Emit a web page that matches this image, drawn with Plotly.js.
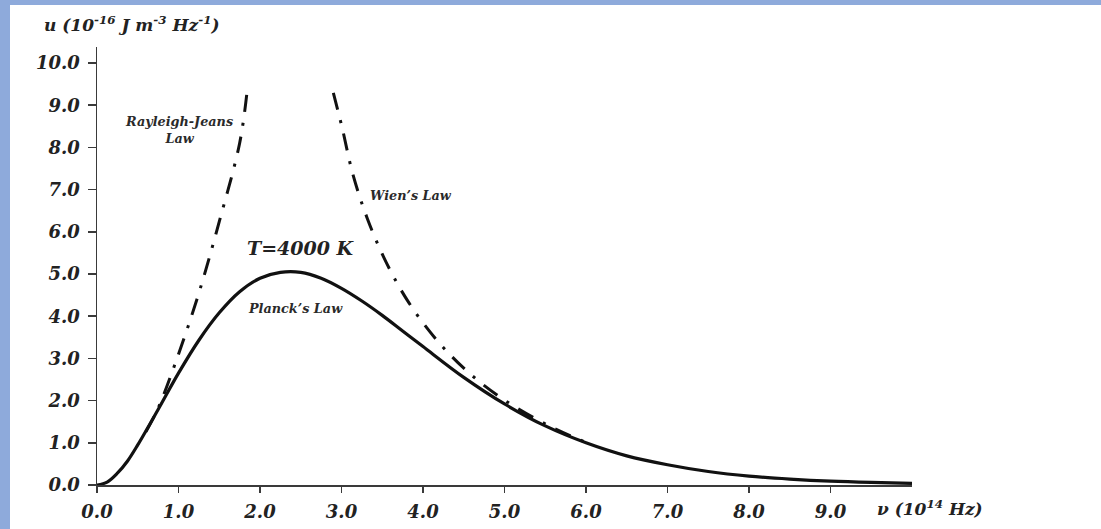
<!DOCTYPE html>
<html>
<head>
<meta charset="utf-8">
<script src="https://cdn.plot.ly/plotly-3.0.1.min.js"></script>
<style>
  html, body { margin: 0; padding: 0; background: #8eaadb; width: 1101px; height: 529px; overflow: hidden; }
  #chart { position: absolute; left: 10px; top: 5px; width: 1091px; height: 524px; background: #ffffff; }
</style>
</head>
<body>
<div id="chart"></div>
<script>
// Frequency in 10^14 Hz, energy density in 10^-16 J m^-3 Hz^-1
const nuPlanck = [0, 0.125, 0.25, 0.375, 0.5, 0.75, 1.0, 1.25, 1.5, 1.75, 2.0, 2.25, 2.5, 2.75, 3.0, 3.25, 3.5, 3.75, 4.0, 4.5, 5.0, 5.5, 6.0, 6.5, 7.0, 7.5, 8.0, 8.5, 9.0, 9.5, 10.0];
const uPlanck  = [0, 0.07, 0.28, 0.57, 0.95, 1.79, 2.65, 3.43, 4.08, 4.58, 4.90, 5.04, 5.04, 4.90, 4.66, 4.36, 4.02, 3.65, 3.28, 2.55, 1.92, 1.40, 1.00, 0.69, 0.48, 0.32, 0.21, 0.14, 0.09, 0.06, 0.04];

const nuRJ = [0.6, 0.75, 1.0, 1.25, 1.5, 1.75, 1.84];
const uRJ  = [1.26, 1.82, 3.10, 4.55, 6.24, 8.10, 9.30];

const nuWien = [2.90, 3.01, 3.14, 3.32, 3.55, 3.83, 4.18, 4.58, 5.04, 5.55, 6.0];
const uWien  = [9.29, 8.45, 7.36, 6.30, 5.27, 4.31, 3.41, 2.63, 1.96, 1.40, 1.01];

const xTickVals = [0, 1, 2, 3, 4, 5, 6, 7, 8, 9];
const xTickText = ['0.0', '1.0', '2.0', '3.0', '4.0', '5.0', '6.0', '7.0', '8.0', '9.0'];
const yTickVals = [0, 1, 2, 3, 4, 5, 6, 7, 8, 9, 10];
const yTickText = ['0.0', '1.0', '2.0', '3.0', '4.0', '5.0', '6.0', '7.0', '8.0', '9.0', '10.0'];

const serif = 'DejaVu Serif, Liberation Serif, serif';
const tickFont = {family: serif, size: 18, color: '#222', weight: 'bold', style: 'italic'};
const noteFont = {family: serif, size: 12.8, color: '#2a2a2a', weight: 'bold', style: 'italic'};
const titleFont = {family: serif, size: 17, color: '#222', weight: 'bold', style: 'italic'};
const dashDot = '17px,11px,3px,11px';

const traces = [
  {x: nuRJ, y: uRJ, mode: 'lines', line: {color: '#111', width: 3, dash: dashDot, shape: 'spline'}, hoverinfo: 'skip'},
  {x: nuWien, y: uWien, mode: 'lines', line: {color: '#111', width: 3, dash: dashDot, shape: 'spline'}, hoverinfo: 'skip'},
  {x: nuPlanck, y: uPlanck, mode: 'lines', line: {color: '#111', width: 3.2, shape: 'spline', smoothing: 1}, hoverinfo: 'skip'}
];

const layout = {
  width: 1091, height: 524,
  margin: {l: 87, r: 189, t: 42, b: 44},
  paper_bgcolor: '#ffffff', plot_bgcolor: '#ffffff',
  showlegend: false,
  xaxis: {
    range: [0, 10], tickvals: xTickVals, ticktext: xTickText,
    showgrid: false, zeroline: false, showline: true, linecolor: '#3a3a3a', linewidth: 1.5,
    ticks: 'outside', ticklen: 6, tickwidth: 1.5, tickcolor: '#3a3a3a',
    tickfont: tickFont, ticklabelstandoff: 4, fixedrange: true
  },
  yaxis: {
    range: [0, 10.38], tickvals: yTickVals, ticktext: yTickText,
    showgrid: false, zeroline: false, showline: true, linecolor: '#3a3a3a', linewidth: 1.5,
    ticks: 'outside', ticklen: 8, tickwidth: 1.5, tickcolor: '#3a3a3a',
    tickfont: tickFont, ticklabelstandoff: 4, fixedrange: true
  },
  annotations: [
    {xref: 'paper', yref: 'paper', x: -0.067, y: 1.0525, xanchor: 'left', yanchor: 'middle', showarrow: false,
     text: 'u (10<sup>-16</sup> J m<sup>-3</sup> Hz<sup>-1</sup>)', font: titleFont},
    {xref: 'paper', yref: 'paper', x: 0.9546, y: -0.0525, xanchor: 'left', yanchor: 'middle', showarrow: false,
     text: 'ν (10<sup>14</sup> Hz)', font: titleFont},
    {xref: 'x', yref: 'y', x: 1.01, y: 8.41, xanchor: 'center', yanchor: 'middle', showarrow: false,
     text: 'Rayleigh-Jeans<br>Law', font: noteFont},
    {xref: 'x', yref: 'y', x: 3.33, y: 6.85, xanchor: 'left', yanchor: 'middle', showarrow: false,
     text: 'Wien’s Law', font: noteFont},
    {xref: 'x', yref: 'y', x: 2.50, y: 5.62, xanchor: 'center', yanchor: 'middle', showarrow: false,
     text: 'T=4000 K', font: {family: serif, size: 19, color: '#222', weight: 'bold', style: 'italic'}},
    {xref: 'x', yref: 'y', x: 2.44, y: 4.19, xanchor: 'center', yanchor: 'middle', showarrow: false,
     text: 'Planck’s Law', font: noteFont}
  ]
};

Plotly.newPlot('chart', traces, layout, {displayModeBar: false, staticPlot: true});
</script>
</body>
</html>
